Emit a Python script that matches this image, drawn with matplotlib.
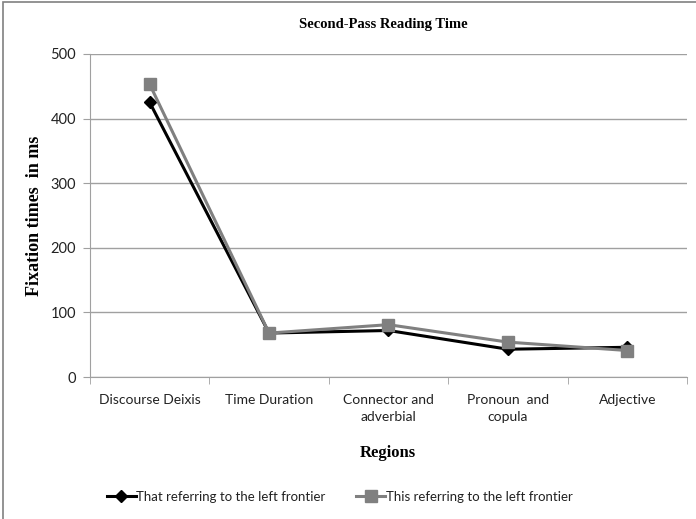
import matplotlib
matplotlib.use("Agg")
import matplotlib.pyplot as plt
from matplotlib.patches import Rectangle

regions = ["Discourse Deixis", "Time Duration", "Connector and\nadverbial",
           "Pronoun  and\ncopula", "Adjective"]
that_vals = [425, 68, 72, 43, 46]
this_vals = [453, 68, 81, 54, 41]
series_names = ["That referring to the left frontier",
                "This referring to the left frontier"]

fig = plt.figure(figsize=(6.96, 5.19), dpi=100)
ax = fig.add_axes([0.1293, 0.2736, 0.8577, 0.6224])

x = range(len(regions))
ax.plot(x, that_vals, color="black", lw=2.2, marker="D", ms=6,
        label=series_names[0], zorder=3)
ax.plot(x, this_vals, color="#808080", lw=2.2, marker="s", ms=8,
        label=series_names[1], zorder=4)

ax.set_xlim(-0.5, len(regions) - 0.5)
ax.set_ylim(0, 500)
ax.set_yticks(range(0, 501, 100))
ax.yaxis.grid(True, color="#a0a0a0", lw=1)
ax.set_axisbelow(True)

ax.set_xticks(x)
ax.set_xticklabels(regions, fontsize=10, family="Lato", color="#222222",
                   linespacing=1.55)
ax.set_xticks([i + 0.5 for i in range(-1, len(regions))], minor=True)
ax.tick_params(axis="x", which="major", length=0, pad=12)
ax.tick_params(axis="x", which="minor", length=5, color="#a0a0a0")
ax.tick_params(axis="y", length=5, color="#a0a0a0", labelsize=10.5,
               labelcolor="#222222", pad=5)
for lab in ax.get_yticklabels():
    lab.set_family("Lato")

for s in ["top", "right"]:
    ax.spines[s].set_visible(False)
for s in ["left", "bottom"]:
    ax.spines[s].set_color("#a0a0a0")

fig.text(0.551, 0.952, "Second-Pass Reading Time", ha="center", va="center",
         family="Liberation Serif", fontweight="bold", fontsize=10.5)
fig.text(0.05, 0.585, "Fixation times  in ms", rotation=90, ha="center",
         va="center", family="Liberation Serif", fontweight="bold", fontsize=13)
fig.text(0.557, 0.127, "Regions", ha="center", va="center",
         family="Liberation Serif", fontweight="bold", fontsize=12)

leg = fig.legend(loc="center", bbox_to_anchor=(0.488, 0.043), ncol=2,
                 frameon=False, handlelength=2.2, handletextpad=0.05,
                 columnspacing=2.3, prop={"family": "Lato", "size": 9.5})
for t in leg.get_texts():
    t.set_color("#222222")

fig.patches.append(Rectangle((0.004, -0.01), 1.2, 1.006, transform=fig.transFigure,
                             fill=False, edgecolor="#808080", lw=1.2))

fig.savefig("out.png", dpi=100)
